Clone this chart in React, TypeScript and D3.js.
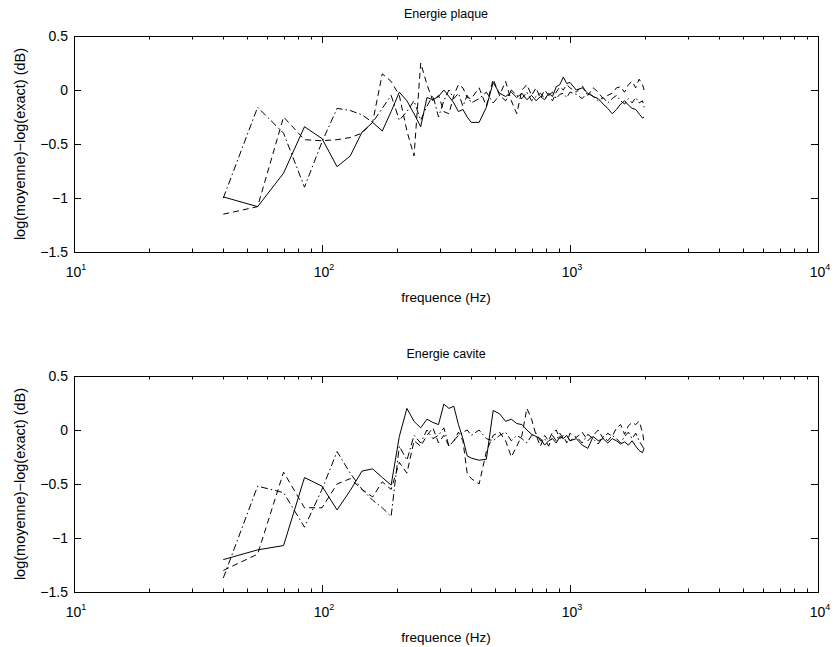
import React from "react";
import * as d3 from "d3";

// Frequency grid (Hz)
const freqHz = [
  40, 55, 70, 85, 100, 115, 130, 145, 160, 175, 190, 205, 220, 235, 250, 265, 280, 295, 310, 325, 340, 355, 370, 385, 400,
  430, 460, 490, 520, 550, 580, 610, 640, 670, 700, 730, 760, 790, 820, 850, 880, 910, 940, 970, 1000,
  1060, 1120, 1180, 1240, 1300, 1360, 1420, 1480, 1540, 1600, 1660, 1720, 1780, 1840, 1900, 1960, 1990,
];

// Energie plaque
const plaqueSolid = [
  -0.99, -1.08, -0.77, -0.34, -0.45, -0.71, -0.61, -0.39, -0.30, -0.38, -0.20, -0.02, -0.10, -0.22, -0.34, -0.07, -0.09, -0.06, 0.00, -0.06, -0.12, -0.20, -0.18, -0.25, -0.30,
  -0.30, -0.16, 0.07, -0.03, -0.06, -0.02, -0.07, -0.03, -0.09, -0.05, -0.10, -0.06, -0.09, -0.03, -0.06, 0.03, 0.05, 0.12, 0.06, 0.07,
  0.00, 0.02, -0.03, -0.06, -0.08, -0.13, -0.17, -0.22, -0.18, -0.13, -0.10, -0.14, -0.17, -0.18, -0.22, -0.26, -0.25,
];
const plaqueDashed = [
  -1.15, -1.08, -0.25, -0.46, -0.47, -0.46, -0.44, -0.40, -0.30, 0.15, 0.08, -0.05, -0.38, -0.61, 0.25, 0.05, -0.10, -0.05, -0.20, -0.22, -0.05, 0.05, 0.02, -0.07, -0.08,
  0.02, -0.15, 0.10, -0.05, 0.08, -0.10, -0.22, 0.00, 0.05, -0.05, 0.02, -0.08, 0.00, -0.05, -0.10, -0.02, 0.03, 0.00, 0.05, 0.02,
  -0.02, 0.04, -0.05, 0.02, -0.02, -0.08, -0.05, -0.03, 0.02, 0.03, -0.02, 0.05, 0.08, 0.02, 0.10, 0.05, 0.00,
];
const plaqueDashDot = [
  -1.00, -0.16, -0.40, -0.90, -0.48, -0.17, -0.19, -0.23, -0.30, -0.17, -0.05, -0.28, -0.20, -0.10, -0.28, -0.15, -0.05, -0.25, -0.10, 0.00, -0.08, -0.03, -0.15, -0.05, -0.12,
  -0.08, -0.02, -0.12, -0.05, -0.10, 0.00, -0.05, -0.08, -0.02, -0.10, -0.06, -0.03, -0.08, -0.05, -0.02, -0.08, -0.04, -0.03, -0.07, -0.02,
  -0.04, -0.08, -0.02, -0.06, -0.10, -0.07, -0.12, -0.08, -0.05, -0.10, -0.13, -0.08, -0.12, -0.07, -0.12, -0.10, -0.16,
];

// Energie cavite
const caviteSolid = [
  -1.20, -1.11, -1.07, -0.44, -0.52, -0.74, -0.56, -0.38, -0.36, -0.44, -0.51, -0.06, 0.20, 0.08, 0.02, 0.10, 0.07, 0.05, 0.24, 0.20, 0.22, 0.05, -0.08, -0.24, -0.26,
  -0.28, -0.27, 0.18, 0.15, 0.08, 0.10, 0.06, 0.05, 0.00, -0.04, -0.06, -0.08, -0.14, -0.10, -0.08, -0.12, -0.06, -0.08, -0.05, -0.10,
  -0.08, -0.14, -0.17, -0.06, -0.10, -0.08, -0.12, -0.08, -0.10, -0.13, -0.11, -0.14, -0.10, -0.15, -0.19, -0.21, -0.17,
];
const caviteDashed = [
  -1.30, -1.15, -0.39, -0.72, -0.72, -0.50, -0.45, -0.55, -0.62, -0.48, -0.55, -0.30, -0.40, -0.10, -0.15, -0.05, 0.02, -0.12, -0.05, -0.15, -0.10, -0.02, -0.10, -0.40, -0.45,
  -0.50, -0.20, -0.05, -0.02, -0.10, -0.25, -0.15, -0.05, 0.20, 0.10, -0.05, -0.15, -0.05, -0.10, -0.02, 0.00, -0.08, -0.05, -0.12, -0.03,
  -0.07, -0.02, -0.10, -0.05, 0.00, -0.08, -0.03, -0.06, 0.02, 0.05, -0.04, 0.04, 0.07, 0.05, 0.08, -0.02, -0.12,
];
const caviteDashDot = [
  -1.37, -0.52, -0.58, -0.90, -0.55, -0.20, -0.40, -0.55, -0.65, -0.72, -0.80, -0.15, -0.28, -0.05, -0.12, 0.00, -0.08, -0.05, 0.02, -0.15, -0.10, -0.05, -0.02, 0.00, -0.05,
  0.00, -0.08, -0.10, -0.05, -0.02, -0.10, -0.05, -0.08, -0.12, -0.05, -0.03, -0.10, -0.08, -0.15, -0.05, -0.10, -0.03, -0.08, -0.05, -0.10,
  -0.06, -0.12, -0.04, -0.08, -0.13, -0.06, -0.10, -0.05, -0.08, -0.12, -0.06, -0.02, -0.08, -0.03, -0.10, -0.15, -0.18,
];

const yTicks = [-1.5, -1, -0.5, 0, 0.5];
const xDecadeExponents = [1, 2, 3, 4];
const panelTitles = ["Energie plaque", "Energie cavite"];
const xLabel = "frequence (Hz)";
const yLabel = "log(moyenne)\u2212log(exact) (dB)";

const W = 834;
const H = 647;
const LEFT = 74;
const RIGHT = 818;
const PH = 216;
const FONT = "'Liberation Sans', Arial, Helvetica, sans-serif";

function fmt(v: number) {
  const s = String(Math.abs(v));
  return v < 0 ? "\u2212" + s : s;
}

function Panel({ top, title, solid, dashed, dashdot }: { top: number; title: string; solid: number[]; dashed: number[]; dashdot: number[] }) {
  const x = d3.scaleLog().domain([10, 10000]).range([LEFT, RIGHT]);
  const y = d3.scaleLinear().domain([-1.5, 0.5]).range([top + PH, top]);
  const mk = (vals: number[]) =>
    d3
      .line<number>()
      .x((_, i) => x(freqHz[i]))
      .y((v) => y(v))(vals) || "";
  const bottom = top + PH;
  const minor: number[] = [];
  for (let e = 1; e <= 3; e++) for (let m = 2; m <= 9; m++) minor.push(m * Math.pow(10, e));
  const major = xDecadeExponents.map((e) => Math.pow(10, e));
  const cx = (LEFT + RIGHT) / 2;
  return (
    <g>
      <rect x={LEFT + 0.5} y={top + 0.5} width={RIGHT - LEFT} height={PH} fill="white" stroke="black" strokeWidth={1} />
      {minor.map((f) => {
        const xx = Math.round(x(f)) + 0.5;
        return (
          <g key={"mi" + f}>
            <line x1={xx} x2={xx} y1={bottom} y2={bottom - 3.5} stroke="black" strokeWidth={1} />
            <line x1={xx} x2={xx} y1={top} y2={top + 3.5} stroke="black" strokeWidth={1} />
          </g>
        );
      })}
      {major.map((f) => {
        const xx = Math.round(x(f)) + 0.5;
        return (
          <g key={"ma" + f}>
            <line x1={xx} x2={xx} y1={bottom} y2={bottom - 7} stroke="black" strokeWidth={1} />
            <line x1={xx} x2={xx} y1={top} y2={top + 7} stroke="black" strokeWidth={1} />
          </g>
        );
      })}
      {yTicks.map((v) => {
        const yy = Math.round(y(v)) + 0.5;
        return (
          <g key={"y" + v}>
            <line x1={LEFT} x2={LEFT + 7} y1={yy} y2={yy} stroke="black" strokeWidth={1} />
            <line x1={RIGHT} x2={RIGHT - 7} y1={yy} y2={yy} stroke="black" strokeWidth={1} />
            <text x={LEFT - 6} y={y(v) + 5} textAnchor="end" fontSize={14} fontFamily={FONT}>
              {fmt(v)}
            </text>
          </g>
        );
      })}
      {xDecadeExponents.map((e) => (
        <text key={"xl" + e} x={x(Math.pow(10, e)) + 2} y={bottom + 25} textAnchor="middle" fontSize={14} fontFamily={FONT}>
          10
          <tspan dy={-7} fontSize={9}>
            {e}
          </tspan>
        </text>
      ))}
      <path d={mk(solid)} fill="none" stroke="black" strokeWidth={1} />
      <path d={mk(dashed)} fill="none" stroke="black" strokeWidth={1} strokeDasharray="6,4" />
      <path d={mk(dashdot)} fill="none" stroke="black" strokeWidth={1} strokeDasharray="7,3,1.5,3" />
      <text x={cx} y={bottom + 50} textAnchor="middle" fontSize={13.5} fontFamily={FONT}>
        {xLabel}
      </text>
      <text x={cx} y={top - 18} textAnchor="middle" fontSize={12.5} fontFamily={FONT}>
        {title}
      </text>
      <text
        transform={`translate(25, ${top + PH / 2}) rotate(-90)`}
        textAnchor="middle"
        fontSize={14.5}
        fontFamily={FONT}
      >
        {yLabel}
      </text>
    </g>
  );
}

export default function App() {
  return (
    <svg width={W} height={H} style={{ position: "absolute", left: 0, top: 0, background: "white" }}>
      <rect x={0} y={0} width={W} height={H} fill="white" />
      <Panel top={36} title={panelTitles[0]} solid={plaqueSolid} dashed={plaqueDashed} dashdot={plaqueDashDot} />
      <Panel top={376} title={panelTitles[1]} solid={caviteSolid} dashed={caviteDashed} dashdot={caviteDashDot} />
    </svg>
  );
}
